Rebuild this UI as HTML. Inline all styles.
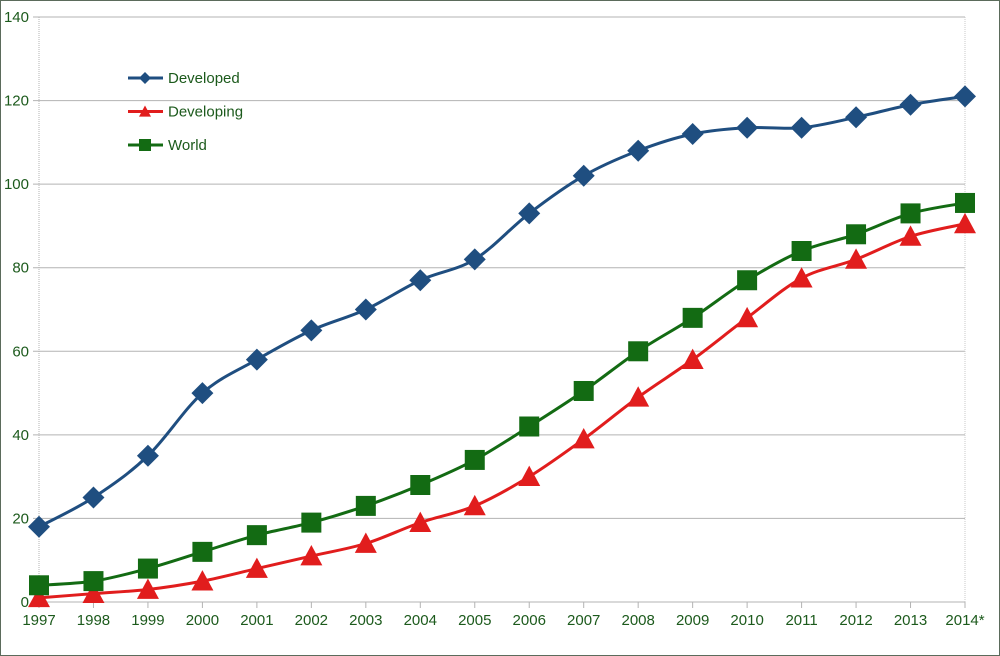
<!DOCTYPE html>
<html><head><meta charset="utf-8"><style>
html,body{margin:0;padding:0;background:#fff}
svg{display:block}
text{font-family:"Liberation Sans",sans-serif;fill:#1c5a1c;font-size:15px}
</style></head><body>
<svg id="chart" width="1000" height="656" viewBox="0 0 1000 656">
<rect x="0.5" y="0.5" width="999" height="655" fill="#fff" stroke="#5b6b5b"/>
<g id="grid"></g>
<g id="axes"></g>
<g id="series"></g>
<g id="legend"></g>
</svg>
<script>
const categories=["1997","1998","1999","2000","2001","2002","2003","2004","2005","2006","2007","2008","2009","2010","2011","2012","2013","2014*"];
const developed=[18,25,35,50,58,65,70,77,82,93,102,108,112,113.5,113.5,116,119,121];
const developing=[1,2,3,5,8,11,14,19,23,30,39,49,58,68,77.5,82,87.5,90.5];
const world=[4,5,8,12,16,19,23,28,34,42,50.5,60,68,77,84,88,93,95.5];
const yTicks=[0,20,40,60,80,100,120,140];
const seriesNames=["Developed","Developing","World"];

const NS="http://www.w3.org/2000/svg";
const X0=39,X1=965,Y0=602,Y1=17,YMAX=140;
function xs(i){return X0+(X1-X0)*i/(categories.length-1);}
function ys(v){return Y0-(Y0-Y1)*v/YMAX;}
function mk(tag,attrs,parent){const e=document.createElementNS(NS,tag);for(const k in attrs)e.setAttribute(k,attrs[k]);parent.appendChild(e);return e;}
const grid=document.getElementById('grid'),axes=document.getElementById('axes'),ser=document.getElementById('series'),leg=document.getElementById('legend');

yTicks.forEach(t=>{
  const l=mk('line',{x1:X0-6,x2:X1,y1:ys(t),y2:ys(t),stroke:'#b3b3b3','stroke-width':1},grid);
  
  
  const tx=mk('text',{x:X0-10,y:ys(t)+5,'text-anchor':'end'},axes);
  tx.textContent=t;
  
  
});
categories.forEach((c,i)=>{
  const l=mk('line',{x1:xs(i),x2:xs(i),y1:Y0,y2:Y0+6,stroke:'#b3b3b3','stroke-width':1},grid);
  
  
  const tx=mk('text',{x:xs(i),y:Y0+23,'text-anchor':'middle'},axes);
  tx.textContent=c;
  
  
});
const ya=mk('line',{x1:X0,x2:X0,y1:Y1,y2:Y0,stroke:'#b3b3b3','stroke-dasharray':'1 1'},axes);


const yb=mk('line',{x1:X1,x2:X1,y1:Y1,y2:Y0,stroke:'#c8c8c8','stroke-dasharray':'1 1'},axes);



function smoothPath(vals){
  const p=vals.map((v,i)=>[xs(i),ys(v)]);
  let d='M'+p[0][0]+','+p[0][1];
  for(let i=0;i<p.length-1;i++){
    const a=p[i-1]||p[i],b=p[i],c=p[i+1],e=p[i+2]||c;
    const c1=[b[0]+(c[0]-a[0])/6,b[1]+(c[1]-a[1])/6];
    const c2=[c[0]-(e[0]-b[0])/6,c[1]-(e[1]-b[1])/6];
    d+=' C'+c1+' '+c2+' '+c;
  }
  return d;
}
function marker(type,x,y,color,s,parent){
  let e;
  if(type==='diamond')e=mk('polygon',{points:`${x},${y-s} ${x+s},${y} ${x},${y+s} ${x-s},${y}`,fill:color},parent);
  else if(type==='triangle')e=mk('polygon',{points:`${x},${y-s} ${x+s},${y+s*0.85} ${x-s},${y+s*0.85}`,fill:color},parent);
  else e=mk('rect',{x:x-s,y:y-s,width:2*s,height:2*s,fill:color},parent);
  return e;
}
const cfg=[[developed,'#1f4e80','diamond',11],[developing,'#e11d1d','triangle',11],[world,'#136b13','square',10]];
cfg.forEach(([vals,col,type,sz],k)=>{
  const g=mk('g',{},ser);
  
  
  const path=mk('path',{d:smoothPath(vals),fill:'none',stroke:col,'stroke-width':3},g);
  
  
  vals.forEach((v,i)=>{
    const m=marker(type,xs(i),ys(v),col,sz,g);
    
    
  });
  const ly=78+k*33.5;
  const lg=mk('g',{},leg);
  
  
  mk('line',{x1:128,x2:163,y1:ly,y2:ly,stroke:col,'stroke-width':3},lg);
  marker(type,145,ly,col,6,lg);
  const t=mk('text',{x:168,y:ly+5},lg);
  t.textContent=seriesNames[k];
});
</script>
</body></html>
